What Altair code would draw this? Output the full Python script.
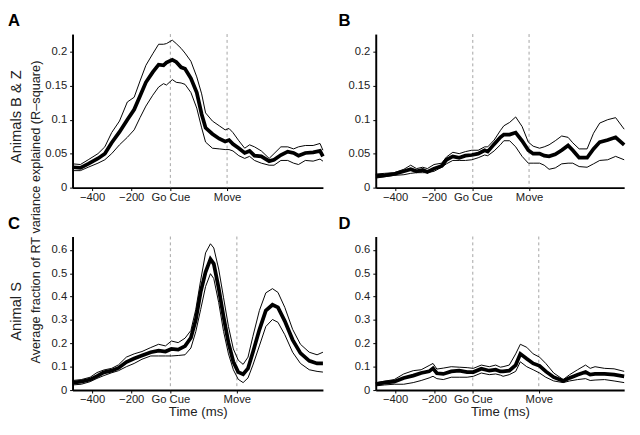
import altair as alt
import pandas as pd

FONT = "Liberation Sans"

# ---------------- data ----------------
# Panel A: Animals B & Z (R-square, mean and bounds)
t_a = [-500, -460, -420, -370, -335, -300, -260, -220, -185, -155,
       -125, -90, -60, -35, -20, 10, 30, 55, 75, 105,
       135, 160, 180, 215, 250, 280, 300, 320, 350, 380,
       405, 430, 465, 505, 530, 565, 600, 630, 655, 690,
       730, 765, 780]
mean_a = [0.030, 0.029, 0.035, 0.043, 0.050, 0.066, 0.082, 0.100, 0.115, 0.135,
          0.155, 0.170, 0.181, 0.180, 0.184, 0.188, 0.185, 0.177, 0.175, 0.161,
          0.140, 0.108, 0.088, 0.079, 0.072, 0.068, 0.070, 0.064, 0.058, 0.051,
          0.054, 0.047, 0.046, 0.039, 0.041, 0.048, 0.053, 0.051, 0.047, 0.051,
          0.052, 0.054, 0.046]
upper_a = [0.035, 0.034, 0.041, 0.050, 0.060, 0.081, 0.098, 0.126, 0.133, 0.157,
           0.180, 0.197, 0.211, 0.211, 0.212, 0.217, 0.212, 0.205, 0.198, 0.186,
           0.163, 0.138, 0.110, 0.098, 0.091, 0.085, 0.087, 0.081, 0.069, 0.058,
           0.063, 0.060, 0.054, 0.043, 0.050, 0.060, 0.060, 0.057, 0.060, 0.062,
           0.062, 0.065, 0.055]
lower_a = [0.025, 0.025, 0.030, 0.036, 0.041, 0.050, 0.063, 0.074, 0.085, 0.103,
           0.120, 0.136, 0.148, 0.153, 0.151, 0.159, 0.155, 0.154, 0.152, 0.140,
           0.117, 0.088, 0.067, 0.058, 0.057, 0.056, 0.056, 0.054, 0.047, 0.043,
           0.046, 0.040, 0.036, 0.033, 0.033, 0.040, 0.040, 0.036, 0.034, 0.040,
           0.039, 0.042, 0.039]

# Panel B: Animals B & Z
t_b = [-500, -455, -405, -355, -320, -290, -258, -234, -200, -160,
       -136, -103, -70, -38, -5, 28, 61, 77, 110, 142,
       160, 190, 221, 254, 286, 311, 344, 368, 393, 425,
       458, 491, 515, 548, 589, 622, 654, 695, 736, 780]
mean_b = [0.017, 0.018, 0.020, 0.024, 0.027, 0.024, 0.026, 0.023, 0.028, 0.032,
          0.041, 0.046, 0.044, 0.047, 0.048, 0.050, 0.055, 0.053, 0.064, 0.074,
          0.078, 0.078, 0.081, 0.069, 0.055, 0.050, 0.050, 0.047, 0.046, 0.049,
          0.055, 0.062, 0.055, 0.044, 0.044, 0.057, 0.067, 0.070, 0.074, 0.063]
upper_b = [0.020, 0.021, 0.022, 0.027, 0.033, 0.028, 0.030, 0.028, 0.034, 0.036,
           0.045, 0.052, 0.050, 0.053, 0.055, 0.055, 0.060, 0.060, 0.070, 0.084,
           0.091, 0.096, 0.104, 0.090, 0.067, 0.061, 0.058, 0.060, 0.063, 0.069,
           0.076, 0.074, 0.066, 0.057, 0.057, 0.080, 0.095, 0.100, 0.103, 0.086]
lower_b = [0.014, 0.016, 0.018, 0.019, 0.021, 0.022, 0.022, 0.022, 0.024, 0.030,
           0.035, 0.040, 0.040, 0.040, 0.041, 0.044, 0.048, 0.047, 0.054, 0.063,
           0.069, 0.069, 0.060, 0.046, 0.036, 0.036, 0.036, 0.033, 0.027, 0.029,
           0.035, 0.036, 0.036, 0.031, 0.030, 0.035, 0.040, 0.041, 0.046, 0.041]

# Panel C: Animal S
t_c = [-500, -455, -410, -375, -340, -300, -265, -225, -185, -145,
       -100, -60, -25, 5, 40, 75, 105, 130, 155, 180,
       205, 222, 247, 272, 297, 322, 347, 372, 397, 422,
       455, 488, 522, 550, 585, 625, 665, 710, 750, 780]
mean_c = [0.032, 0.036, 0.045, 0.060, 0.076, 0.083, 0.095, 0.120, 0.135, 0.148,
          0.162, 0.169, 0.165, 0.176, 0.173, 0.188, 0.224, 0.300, 0.420, 0.505,
          0.560, 0.540, 0.436, 0.313, 0.203, 0.121, 0.077, 0.068, 0.093, 0.162,
          0.258, 0.340, 0.365, 0.354, 0.295, 0.215, 0.158, 0.125, 0.114, 0.114]
upper_c = [0.041, 0.045, 0.055, 0.075, 0.086, 0.093, 0.108, 0.141, 0.155, 0.165,
           0.182, 0.196, 0.189, 0.210, 0.203, 0.222, 0.255, 0.345, 0.470, 0.587,
           0.626, 0.608, 0.518, 0.395, 0.272, 0.176, 0.128, 0.110, 0.141, 0.230,
           0.340, 0.416, 0.434, 0.418, 0.354, 0.260, 0.196, 0.162, 0.151, 0.162]
lower_c = [0.022, 0.025, 0.036, 0.050, 0.062, 0.074, 0.083, 0.100, 0.114, 0.132,
           0.146, 0.146, 0.146, 0.146, 0.148, 0.151, 0.180, 0.250, 0.345, 0.443,
           0.498, 0.477, 0.375, 0.251, 0.155, 0.087, 0.046, 0.032, 0.052, 0.107,
           0.189, 0.272, 0.302, 0.290, 0.237, 0.162, 0.114, 0.087, 0.080, 0.077]

# Panel D: Animal S
t_d = [-500, -455, -405, -356, -307, -266, -225, -205, -185, -152,
       -111, -70, -29, 3, 44, 85, 118, 142, 156, 188,
       221, 245, 278, 311, 344, 376, 417, 466, 499, 540,
       581, 605, 630, 679, 728, 780]
mean_d = [0.025, 0.032, 0.036, 0.052, 0.062, 0.073, 0.080, 0.093, 0.072, 0.069,
          0.080, 0.083, 0.077, 0.077, 0.091, 0.083, 0.087, 0.080, 0.080, 0.083,
          0.107, 0.155, 0.134, 0.114, 0.104, 0.080, 0.055, 0.039, 0.052, 0.066,
          0.077, 0.066, 0.069, 0.069, 0.066, 0.059]
upper_d = [0.032, 0.038, 0.045, 0.069, 0.083, 0.087, 0.105, 0.114, 0.090, 0.094,
           0.100, 0.098, 0.096, 0.093, 0.107, 0.100, 0.107, 0.098, 0.100, 0.107,
           0.155, 0.196, 0.183, 0.155, 0.141, 0.114, 0.073, 0.045, 0.066, 0.087,
           0.107, 0.093, 0.100, 0.093, 0.091, 0.080]
lower_d = [0.018, 0.022, 0.025, 0.025, 0.032, 0.041, 0.052, 0.059, 0.049, 0.045,
           0.055, 0.055, 0.055, 0.059, 0.073, 0.066, 0.069, 0.064, 0.059, 0.066,
           0.080, 0.121, 0.100, 0.087, 0.073, 0.055, 0.039, 0.032, 0.039, 0.045,
           0.049, 0.041, 0.043, 0.045, 0.039, 0.032]

move_bz = 290
move_s = 340
x_domain = [-500, 780]
y_ticks_top = [0, 0.05, 0.1, 0.15, 0.2]
y_ticks_bottom = [0, 0.1, 0.2, 0.3, 0.4, 0.5, 0.6]
shared_ylabel = "Average fraction of RT variance explained (R\u2013square)"

PANEL_H = 157


def panel(t, mean, upper, lower, move, ymax, yticks, letter, width,
          ytitle=None, ytitle_y=80, xtitle=None, shared=False):
    df = pd.DataFrame({"t": t, "mean": mean, "upper": upper, "lower": lower})
    xscale = alt.Scale(domain=x_domain, nice=False, zero=False)
    yscale = alt.Scale(domain=[0, ymax], nice=False, zero=False)

    common = dict(grid=False, tickSize=3, tickColor="black", domainColor="black",
                  domainWidth=2, labelFont=FONT, labelFontSize=11.5,
                  labelColor="#222", labelOverlap=False, labelFlush=False)
    xkw = dict(common)
    xkw.update(values=[-400, -200, 0, move], labelPadding=1,
               labelExpr=f"datum.value == 0 ? 'Go Cue' : datum.value == {move} ? 'Move' : datum.label")
    if xtitle:
        xaxis = alt.Axis(title=xtitle, titleFont=FONT, titleFontSize=13.5,
                         titleFontWeight="normal", titleColor="#222",
                         titleY=22, titleBaseline="middle", **xkw)
    else:
        xaxis = alt.Axis(title=None, **xkw)
    ykw = dict(common)
    ykw.update(values=yticks, format="~g", labelPadding=3)
    if ytitle:
        yaxis = alt.Axis(title=ytitle, titleFont=FONT, titleFontSize=15,
                         titleFontWeight="normal", titleColor="#222",
                         titleX=-58.5, titleY=ytitle_y, titleAngle=270,
                         titleAlign="center", titleBaseline="middle", **ykw)
    else:
        yaxis = alt.Axis(title=None, **ykw)

    rules = alt.Chart(pd.DataFrame({"t": [0, move]})).mark_rule(
        strokeDash=[3, 3], color="#8c8c8c", strokeWidth=0.8
    ).encode(x=alt.X("t:Q", scale=xscale, axis=xaxis))

    base = alt.Chart(df).encode(x=alt.X("t:Q", scale=xscale, axis=xaxis))
    up = base.mark_line(color="black", strokeWidth=1).encode(
        y=alt.Y("upper:Q", scale=yscale, axis=yaxis))
    lo = base.mark_line(color="black", strokeWidth=1).encode(
        y=alt.Y("lower:Q", scale=yscale, axis=yaxis))
    mn = base.mark_line(color="black", strokeWidth=3.8).encode(
        y=alt.Y("mean:Q", scale=yscale, axis=yaxis))

    dx = -66 if letter in ("A", "C") else -38
    lab = alt.Chart(pd.DataFrame({"lab": [letter]})).mark_text(
        align="left", baseline="top", fontSize=17, fontWeight="bold",
        font=FONT, color="black"
    ).encode(text="lab:N", x=alt.value(dx), y=alt.value(-21))

    layers = [rules, up, lo, mn, lab]
    if shared:
        sh = alt.Chart(pd.DataFrame({"lab": [shared_ylabel]})).mark_text(
            angle=270, align="center", baseline="middle", fontSize=13,
            font=FONT, color="#222"
        ).encode(text="lab:N", x=alt.value(-37), y=alt.value(182))
        layers.append(sh)
    return alt.layer(*layers).properties(width=width, height=PANEL_H)


pA = panel(t_a, mean_a, upper_a, lower_a, move_bz, 0.226, y_ticks_top, "A", 256,
           ytitle="Animals B & Z", ytitle_y=84, shared=True)
pB = panel(t_b, mean_b, upper_b, lower_b, move_bz, 0.226, y_ticks_top, "B", 254)
pC = panel(t_c, mean_c, upper_c, lower_c, move_s, 0.657, y_ticks_bottom, "C", 256,
           ytitle="Animal S", ytitle_y=76, xtitle="Time (ms)")
pD = panel(t_d, mean_d, upper_d, lower_d, move_s, 0.657, y_ticks_bottom, "D", 254,
           xtitle="Time (ms)")

chart = alt.concat(pA, pB, pC, pD, columns=2,
                   spacing={"row": 50, "column": 54}, bounds="flush").properties(
    padding=0
).configure(font=FONT).configure_view(stroke=None)

chart.save("out.html", embed_options={"renderer": "svg", "actions": False})
